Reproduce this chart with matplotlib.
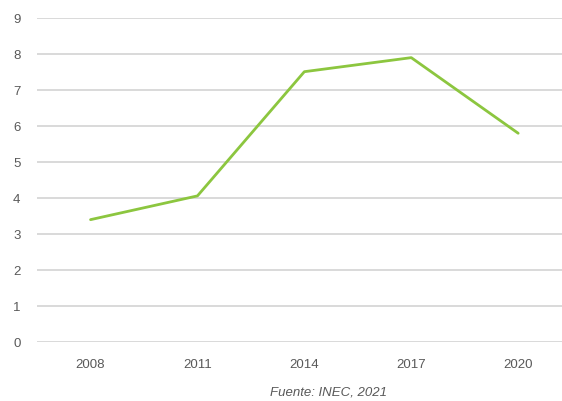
import matplotlib.pyplot as plt

# datos
years = ['2008', '2011', '2014', '2017', '2020']
values = [3.4, 4.06, 7.51, 7.9, 5.8]

plt.rcParams['font.family'] = ['Liberation Sans', 'DejaVu Sans']

fig = plt.figure(figsize=(5.62, 4.01), dpi=100)
ax = fig.add_axes([0.066, 0.147, 0.934, 0.808])

x = list(range(len(years)))
ax.plot(x, values, color='#8cc63f', linewidth=2.0, solid_capstyle='round')

ax.set_xlim(-0.5, 4.41)
ax.set_ylim(0, 9)
ax.set_yticks(range(0, 10))
ax.set_xticks(x)
ax.set_xticklabels(years)

ax.yaxis.grid(True, color='#d9d9d9', linewidth=1.4)
ax.set_axisbelow(True)
for s in ax.spines.values():
    s.set_visible(False)
ax.tick_params(length=0, labelsize=9.5, colors='#595959')
ax.tick_params(axis='x', pad=12)
ax.tick_params(axis='y', pad=12)

fig.text(0.584, 0.022, 'Fuente: INEC, 2021', style='italic', fontsize=9.5,
         color='#595959', ha='center', va='center')

plt.savefig('out.png', dpi=100)
plt.close()
